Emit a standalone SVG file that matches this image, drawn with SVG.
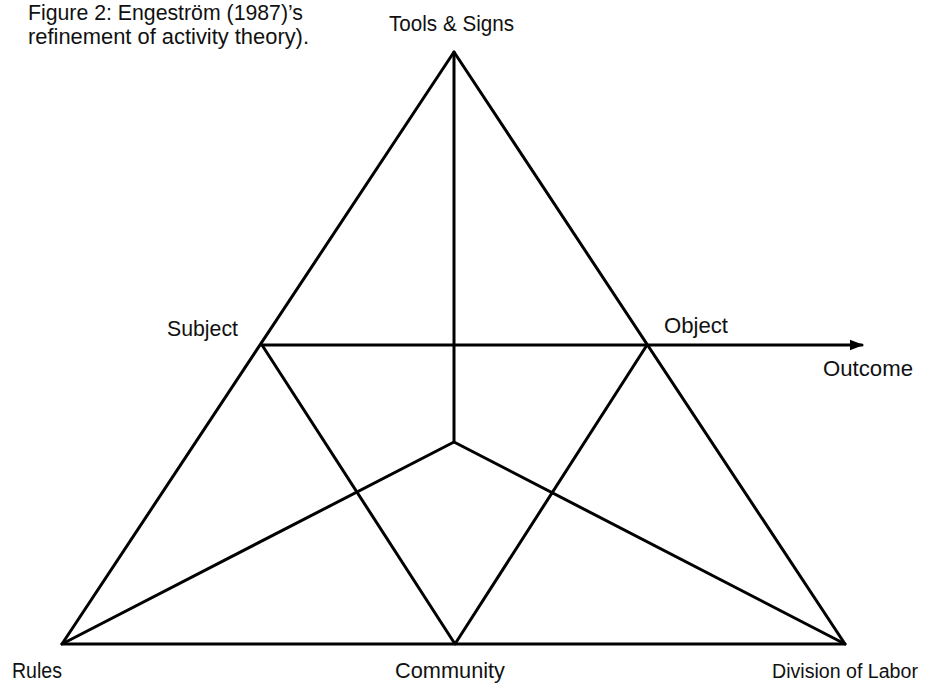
<svg xmlns="http://www.w3.org/2000/svg" width="933" height="684" viewBox="0 0 933 684">
  <style>
    .edge { stroke: #000; stroke-width: 3; fill: none; stroke-linecap: round; stroke-linejoin: round; }
    .lbl { font-family: "Liberation Sans", Arial, sans-serif; font-size: 22px; fill: #111; }
  </style>
  <defs>
    <marker id="arrow" viewBox="0 0 10 10" refX="9" refY="5" markerWidth="4.5" markerHeight="4.5" orient="auto" markerUnits="strokeWidth">
      <path d="M0,1 L10,5 L0,9 Z" fill="#000"/>
    </marker>
  </defs>
  <rect width="933" height="684" fill="#fff"/>

  <text class="lbl" x="28" y="20" textLength="275" lengthAdjust="spacingAndGlyphs">Figure 2: Engeström (1987)’s</text>
  <text class="lbl" x="28" y="44" textLength="281" lengthAdjust="spacingAndGlyphs">refinement of activity theory).</text>

  <g id="connectors">
    <!-- outer triangle -->
    <path class="edge" d="M454,52 L62,644 L845,644 Z"/>
    <!-- vertical from the apex to the centre -->
    <line class="edge" x1="454" y1="52" x2="454" y2="442"/>
    <!-- subject to object -->
    <line class="edge" x1="262" y1="345" x2="647" y2="345"/>
    <!-- inner V to community -->
    <polyline class="edge" points="262,345 455,644 647,345"/>
    <!-- centre to the bottom corners -->
    <polyline class="edge" points="62,644 454,442 845,644"/>
    <!-- outcome arrow -->
    <line class="edge" x1="647" y1="345" x2="862" y2="345" marker-end="url(#arrow)"/>
  </g>

  <g id="tools"><text class="lbl" x="389" y="31" textLength="125" lengthAdjust="spacingAndGlyphs">Tools &amp; Signs</text></g>
  <g id="subject"><text class="lbl" x="167" y="336" textLength="71" lengthAdjust="spacingAndGlyphs">Subject</text></g>
  <g id="object"><text class="lbl" x="664" y="333" textLength="64" lengthAdjust="spacingAndGlyphs">Object</text></g>
  <g id="outcome"><text class="lbl" x="823" y="376" textLength="90" lengthAdjust="spacingAndGlyphs">Outcome</text></g>
  <g id="rules"><text class="lbl" x="12" y="678" textLength="50" lengthAdjust="spacingAndGlyphs">Rules</text></g>
  <g id="community"><text class="lbl" x="395" y="678" textLength="110" lengthAdjust="spacingAndGlyphs">Community</text></g>
  <g id="division"><text class="lbl" x="772" y="678" style="font-size:19.6px">Division of Labor</text></g>
</svg>
